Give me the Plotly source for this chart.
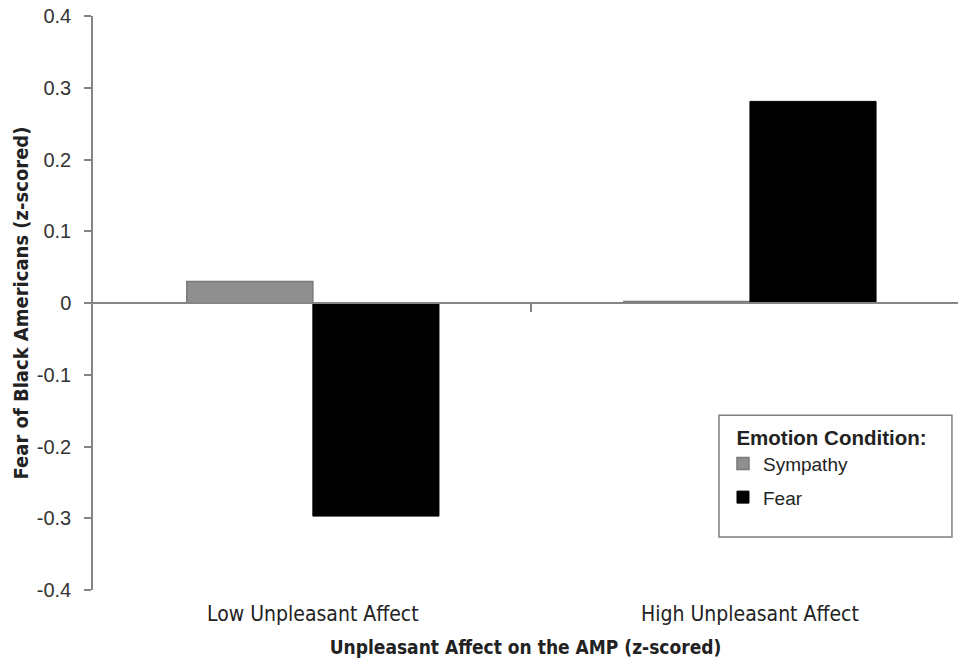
import plotly.graph_objects as go

categories = ["Low Unpleasant Affect", "High Unpleasant Affect"]
sympathy = [0.03, 0.002]
fear = [-0.297, 0.281]
y_ticks = [0.4, 0.3, 0.2, 0.1, 0, -0.1, -0.2, -0.3, -0.4]
y_ticklabels = ["0.4", "0.3", "0.2", "0.1", "0", "-0.1", "-0.2", "-0.3", "-0.4"]

narrow = "DejaVu Sans Condensed, Liberation Sans Narrow, Arial Narrow, sans-serif"
arial = "Liberation Sans, Arial, sans-serif"

fig = go.Figure()
fig.add_trace(go.Bar(x=list(range(len(categories))), y=sympathy, name="Sympathy",
                     legendgroup="s",
                     marker=dict(color="#8f8f8f", line=dict(color="#7a7a7a", width=1.5))))
fig.add_trace(go.Bar(x=list(range(len(categories))), y=fear, name="Fear",
                     legendgroup="f",
                     marker=dict(color="#000000", line=dict(color="#000000", width=1))))
# helper trace for the axis drawn at zero
fig.add_trace(go.Scatter(x=[0.5], y=[0], xaxis="x2", mode="markers",
                         marker=dict(opacity=0), showlegend=False, hoverinfo="skip"))

xr = [-0.503, 1.476]
fig.update_layout(
    width=958, height=661,
    margin=dict(l=93, r=0, t=16, b=71),
    plot_bgcolor="white", paper_bgcolor="white",
    barmode="group", bargap=0.423, bargroupgap=0,
    xaxis=dict(range=xr, tickvals=list(range(len(categories))), ticktext=categories,
               showline=False, showgrid=False, zeroline=False, ticks="", automargin=False,
               tickfont=dict(family=narrow, size=21, color="#222"), ticklabelstandoff=9,
               title=dict(text="<b>Unpleasant Affect on the AMP (z-scored)</b>",
                          font=dict(family=narrow, size=19, color="#222"), standoff=15)),
    xaxis2=dict(range=xr, overlaying="x", anchor="free", position=0.5, automargin=False,
                showline=True, linecolor="#858585", linewidth=2,
                tickvals=[0.5], ticktext=[""], ticks="outside", ticklen=8,
                tickcolor="#858585", tickwidth=1.5, showgrid=False, zeroline=False),
    yaxis=dict(range=[-0.4, 0.4], tickvals=y_ticks, ticktext=y_ticklabels, automargin=False,
               showline=True, linecolor="#858585", linewidth=1.5,
               ticks="outside", ticklen=7, tickcolor="#858585", tickwidth=1.5,
               showgrid=False, zeroline=False, ticklabelstandoff=9,
               tickfont=dict(family=arial, size=20, color="#333"),
               title=dict(text="<b>Fear of Black Americans (z-scored)</b>",
                          font=dict(family=narrow, size=20, color="#222"), standoff=3)),
    legend=dict(x=0.7283, y=0.2998, xanchor="left", yanchor="top",
                bgcolor="rgba(0,0,0,0)", borderwidth=0,
                title=dict(text="&nbsp;&nbsp;<b>Emotion Condition:</b>",
                           font=dict(family=arial, size=20.5, color="#222")),
                font=dict(family=arial, size=19, color="#222"),
                traceorder="grouped", tracegroupgap=6, itemwidth=30),
    shapes=[dict(type="rect", xref="paper", yref="paper",
                 x0=0.7237, x1=0.993, y0=0.0922, y1=0.3043,
                 line=dict(color="#7f7f7f", width=1.5), fillcolor="rgba(0,0,0,0)")],
    showlegend=True,
)
fig.write_html("out.html", config={"displayModeBar": False},
               post_script="document.body.style.margin='0';document.body.style.overflow='hidden';")
